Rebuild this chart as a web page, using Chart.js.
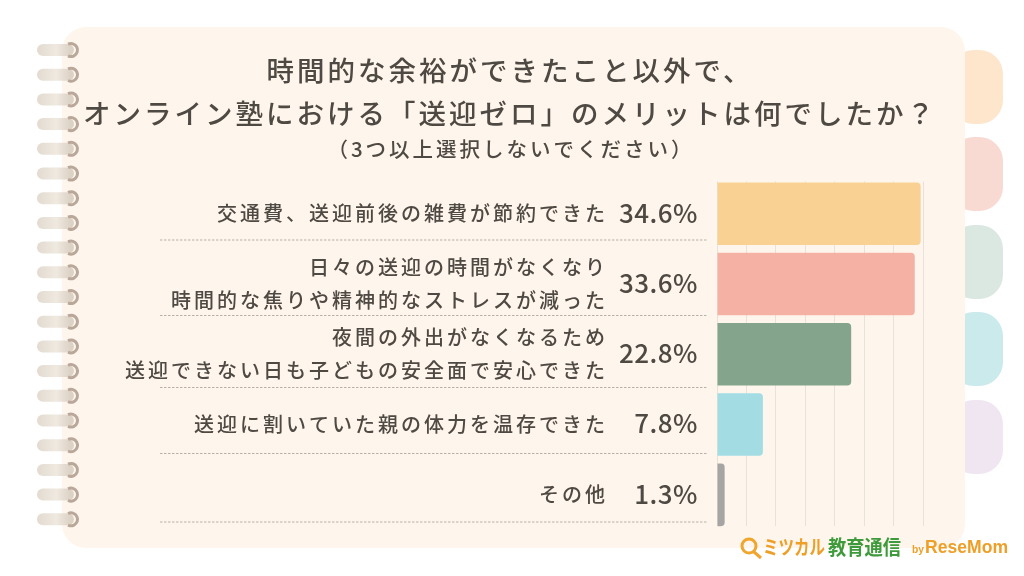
<!DOCTYPE html>
<html lang="ja">
<head>
<meta charset="utf-8">
<title>送迎ゼロのメリット</title>
<script src="https://cdn.jsdelivr.net/npm/chart.js@4/dist/chart.umd.min.js"></script>
<style>
  html, body { margin: 0; padding: 0; background: #fff; }
  canvas { display: block; }
</style>
</head>
<body>
<canvas id="chart" width="1024" height="576"></canvas>
<script>
// data
const categories = [
  '交通費、送迎前後の雑費が節約できた',
  ['日々の送迎の時間がなくなり', '時間的な焦りや精神的なストレスが減った'],
  ['夜間の外出がなくなるため', '送迎できない日も子どもの安全面で安心できた'],
  '送迎に割いていた親の体力を温存できた',
  'その他'
];
const values = [34.6, 33.6, 22.8, 7.8, 1.3];
const barColors = ['#f8d193', '#f5b2a4', '#84a58c', '#a3dde3', '#a6a5a3'];
const titleLines = ['時間的な余裕ができたこと以外で、', 'オンライン塾における「送迎ゼロ」のメリットは何でしたか？'];
const subtitleText = '（3つ以上選択しないでください）';

const FONT = '"Noto Sans CJK JP", "Noto Sans", sans-serif';
const INK = '#4f4943';
const PAPER = '#fef6ed';

// notebook page, tabs, rings and logo behind the chart
function roundRect(ctx, x, y, w, h, r) {
  ctx.beginPath();
  ctx.roundRect(x, y, w, h, r);
  ctx.fill();
}

function drawPage(ctx) {
  const tabs = [[50, '#fde6cc'], [137, '#f8dad2'], [225, '#dbe8e2'], [312, '#caeaec'], [400, '#f0e6f2']];
  tabs.forEach(([y, c]) => {
    ctx.fillStyle = c;
    roundRect(ctx, 950, y, 53, 74, 24);
  });

  ctx.fillStyle = PAPER;
  roundRect(ctx, 62, 27, 903, 521, 24);

  for (let i = 0; i < 20; i++) {
    const y = 50 + i * 24.7;
    const g = ctx.createLinearGradient(36, 0, 70, 0);
    g.addColorStop(0, '#e2dacf');
    g.addColorStop(0.6, '#efe9e0');
    g.addColorStop(1, '#ddd2c6');
    ctx.strokeStyle = g;
    ctx.lineWidth = 12;
    ctx.lineCap = 'round';
    ctx.beginPath();
    ctx.moveTo(43, y);
    ctx.lineTo(68, y);
    ctx.stroke();

    ctx.strokeStyle = '#b9a799';
    ctx.lineWidth = 3;
    ctx.lineCap = 'butt';
    ctx.beginPath();
    ctx.arc(71, y, 6.5, -Math.PI * 0.65, Math.PI * 0.65);
    ctx.stroke();
  }
  ctx.lineCap = 'butt';
}

function drawLogo(ctx) {
  ctx.strokeStyle = '#efa52e';
  ctx.lineWidth = 3;
  ctx.beginPath();
  ctx.arc(749, 546, 7, 0, Math.PI * 2);
  ctx.moveTo(754, 552);
  ctx.lineTo(761, 558);
  ctx.stroke();

  ctx.textAlign = 'left';
  ctx.textBaseline = 'middle';
  ctx.fillStyle = '#ee9f28';
  ctx.font = 'bold 20px ' + FONT;
  ctx.fillText('ミツカル', 763, 547, 62);
  ctx.fillStyle = '#3f9a3c';
  ctx.fillText('教育通信', 828, 547, 73);
  ctx.fillStyle = '#ee9f28';
  ctx.font = 'bold 11px "Liberation Sans"';
  ctx.fillText('by', 912, 550, 12);
  ctx.font = 'bold 19px "Liberation Sans"';
  ctx.fillText('ReseMom', 925, 548, 83);
}

const pagePlugin = {
  id: 'page',
  afterLayout(chart) {
    // title box follows layout padding and would squeeze the long second line
    chart.titleBlock.left = 46;
    chart.titleBlock.right = 974;
  },
  beforeDraw(chart) {
    const ctx = chart.ctx;
    ctx.save();
    drawPage(ctx);
    drawLogo(ctx);
    ctx.restore();
    ctx.letterSpacing = '3px';
  },
  beforeDatasetsDraw(chart) {
    // grid only runs between the first bar's top and the last bar's bottom
    const ctx = chart.ctx;
    const a = chart.chartArea;
    ctx.save();
    ctx.fillStyle = PAPER;
    ctx.fillRect(a.left - 1, a.top - 1, a.width + 2, 4);
    ctx.fillRect(a.left - 1, a.bottom - 4, a.width + 2, 5);
    ctx.restore();
  },
  afterDatasetsDraw(chart) {
    const ctx = chart.ctx;
    const yScale = chart.scales.y;
    ctx.save();

    // dashed rules under each row
    ctx.strokeStyle = '#b7b2aa';
    ctx.lineWidth = 1;
    ctx.setLineDash([2.5, 1.5]);
    [240, 315.5, 387.5, 453.5, 522].forEach(y => {
      ctx.beginPath();
      ctx.moveTo(160, y);
      ctx.lineTo(707, y);
      ctx.stroke();
    });
    ctx.setLineDash([]);

    // percentages next to the labels
    ctx.fillStyle = INK;
    ctx.font = '500 26px ' + FONT;
    ctx.textAlign = 'right';
    ctx.textBaseline = 'middle';
    ctx.letterSpacing = '0.5px';
    values.forEach((v, i) => {
      ctx.fillText(v.toFixed(1) + '%', 698, yScale.getPixelForValue(i) - 1);
    });
    ctx.restore();
  }
};

new Chart(document.getElementById('chart'), {
  type: 'bar',
  data: {
    labels: categories,
    datasets: [{
      data: values,
      backgroundColor: barColors,
      borderRadius: { topLeft: 0, bottomLeft: 0, topRight: 4, bottomRight: 4 },
      borderSkipped: false,
      categoryPercentage: 1,
      barPercentage: 0.89
    }]
  },
  options: {
    indexAxis: 'y',
    responsive: false,
    animation: false,
    layout: { padding: { top: 0, right: 101, bottom: 46, left: 99 } },
    plugins: {
      legend: { display: false },
      tooltip: { enabled: false },
      title: {
        display: true,
        text: titleLines,
        color: INK,
        font: { family: FONT, size: 27.5, weight: '500', lineHeight: 1.57 },
        padding: { top: 49, bottom: 0 }
      },
      subtitle: {
        display: true,
        text: subtitleText,
        color: INK,
        font: { family: FONT, size: 20.5, weight: '500', lineHeight: 1.4 },
        padding: { top: 0, bottom: 14.5 }
      }
    },
    scales: {
      x: {
        min: 0,
        max: 35,
        ticks: { display: false, stepSize: 5 },
        grid: { color: '#e8e2da', lineWidth: 1, drawTicks: false },
        border: { display: false }
      },
      y: {
        grid: { display: false },
        border: { display: false },
        ticks: {
          color: INK,
          padding: 101,
          autoSkip: false,
          font: { family: FONT, size: 20, weight: '500', lineHeight: 1.65 }
        },
        afterFit(scale) {
          // tick padding would otherwise squeeze the plot height
          scale.width = 618;
          scale.paddingTop = 0;
          scale.paddingBottom = 0;
        }
      }
    }
  },
  plugins: [pagePlugin]
});
</script>
</body>
</html>
